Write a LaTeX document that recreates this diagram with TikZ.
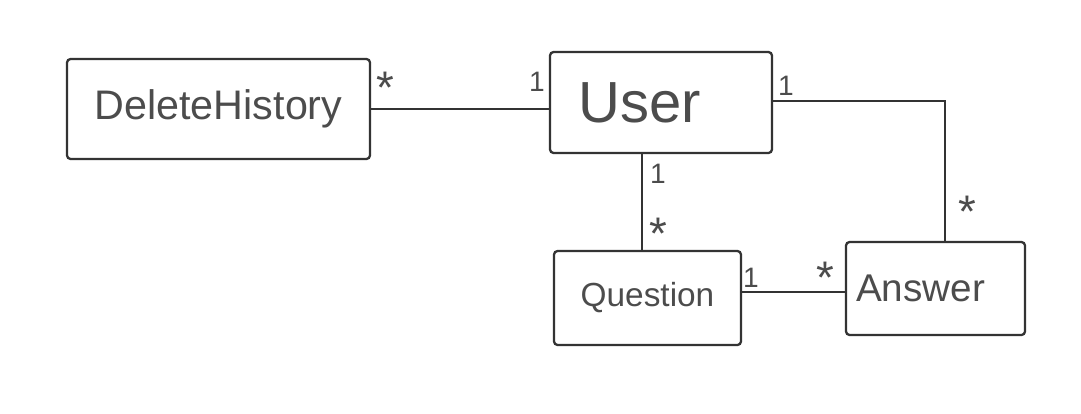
\documentclass[tikz,border=0pt]{standalone}
\usepackage{fontspec}
\setmainfont{Liberation Sans}
\usetikzlibrary{calc}
\begin{document}
\begin{tikzpicture}[x=0.02cm, y=-0.02cm, line width=1.3pt, color=black!80,
  cls/.style={draw=black!80, rectangle, rounded corners=2pt, text=black!70,
              inner sep=0pt},
  mult/.style={text=black!70, inner sep=0pt, font=\fontsize{16}{16}\selectfont},
  many/.style={mult, font=\fontsize{26}{26}\selectfont}]

  \useasboundingbox (0,0) rectangle (1081,413);

  \node[cls, minimum width=6.06cm, minimum height=2.00cm,
        font=\fontsize{23.5}{26}\selectfont] (hist)   at (218.5,109)  {DeleteHistory};
  \node[cls, minimum width=4.44cm, minimum height=2.02cm,
        font=\fontsize{33}{36}\selectfont]   (user)   at (661,102.5)  {User\kern0.85cm};
  \node[cls, minimum width=3.74cm, minimum height=1.88cm,
        font=\fontsize{19}{22}\selectfont]   (quest)  at (647.5,298)  {Question};
  \node[cls, minimum width=3.58cm, minimum height=1.86cm,
        font=\fontsize{22}{25}\selectfont]   (answer) at (935.5,288.5) {Answer\kern0.6cm};

  \coordinate (uq) at ($(quest.north)+(-5.5,0)$);
  \coordinate (ua) at ($(answer.north)+(9.5,0)$);
  \coordinate (qa) at ($(quest.east)+(0,-6)$);

  \draw (hist.east) -- (hist.east -| user.west);
  \draw (uq |- user.south) -- (uq);
  \draw ($(user.east)+(0,-1.5)$) -| (ua);
  \draw (qa) -- (qa -| answer.west);

  \node[many] (m1) at (385,88)  {*};
  \node[mult] (m2) at (537,82)  {1};
  \node[mult] (m3) at (658,174) {1};
  \node[many] (m4) at (658,234) {*};
  \node[mult] (m5) at (786,86)  {1};
  \node[many] (m6) at (967,212) {*};
  \node[mult] (m7) at (751,278) {1};
  \node[many] (m8) at (825,278) {*};

\end{tikzpicture}
\end{document}
